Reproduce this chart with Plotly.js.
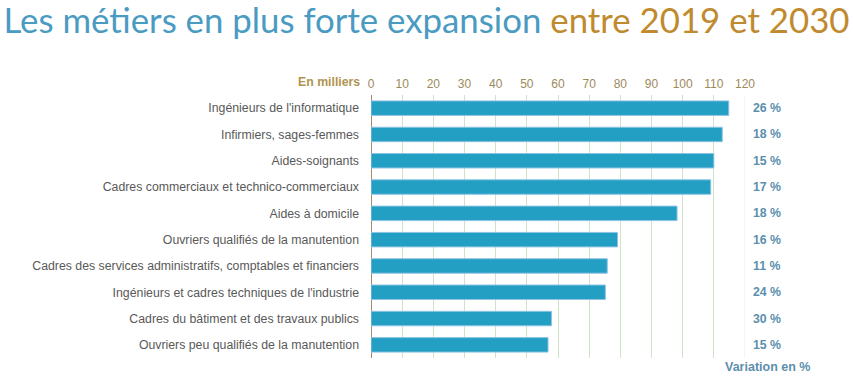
<!DOCTYPE html>
<html><head><meta charset="utf-8">
<script src="https://cdn.plot.ly/plotly-3.0.1.min.js"></script>
<style>body{margin:0;background:#fff}#c{width:853px;height:381px}</style>
</head><body><div id="c"></div>
<script>
const categories = [
  "Ingénieurs de l'informatique",
  "Infirmiers, sages-femmes",
  "Aides-soignants",
  "Cadres commerciaux et technico-commerciaux",
  "Aides à domicile",
  "Ouvriers qualifiés de la manutention",
  "Cadres des services administratifs, comptables et financiers",
  "Ingénieurs et cadres techniques de l'industrie",
  "Cadres du bâtiment et des travaux publics",
  "Ouvriers peu qualifiés de la manutention"
];
const valuesThousands = [114.8, 112.7, 110, 109, 98.2, 79.1, 75.8, 75.2, 57.9, 56.8];
const variationPct = ["26 %", "18 %", "15 %", "17 %", "18 %", "16 %", "11 %", "24 %", "30 %", "15 %"];
const tickValues = [0,10,20,30,40,50,60,70,80,90,100,110,120];

const trace = {
  type: 'bar', orientation: 'h',
  x: valuesThousands, y: categories,
  width: 0.55,
  marker: {color: '#229fc3', line: {color: '#8ec3e4', width: 1}},
  hoverinfo: 'skip'
};
const annotations = variationPct.map((t, i) => ({
  xref: 'paper', yref: 'y', x: 1.017, y: categories[i], xanchor: 'left',
  text: '<b>' + t + '</b>', showarrow: false,
  font: {family: 'Liberation Sans, Arial', size: 12.3, color: '#5b8fad'}
}));
annotations.push({
  xref: 'paper', yref: 'paper', x: -0.025, y: 1, yshift: 4, xanchor: 'right', yanchor: 'bottom',
  text: '<b>En milliers</b>', showarrow: false,
  font: {family: 'Liberation Sans, Arial', size: 12.3, color: '#b09450'}
});
annotations.push({
  xref: 'paper', yref: 'paper', x: 0.94, y: 0, xanchor: 'left', yanchor: 'top',
  text: '<b>Variation en %</b>', showarrow: false,
  font: {family: 'Liberation Sans, Arial', size: 12.5, color: '#5b8fad'}
});

const layout = {
  width: 853, height: 381,
  margin: {l: 371, r: 108, t: 95, b: 23},
  paper_bgcolor: '#fff', plot_bgcolor: '#fff',
  showlegend: false,
  title: {
    text: '<span style="color:#4a9bc2">Les métiers en plus forte expansion</span> <span style="color:#c08a2e">entre 2019 et 2030</span>',
    x: 0.5, xanchor: 'center', y: 0.945, yanchor: 'middle',
    font: {family: 'Lato', size: 34.8}
  },
  xaxis: {
    side: 'top', range: [0, 120], tickvals: tickValues, ticktext: tickValues.map(String),
    showgrid: true, gridcolor: '#cfe3c8', gridwidth: 1,
    zeroline: true, zerolinecolor: '#a88a66', zerolinewidth: 1,
    ticks: '', ticklabelstandoff: 4,
    tickfont: {family: 'Liberation Sans, Arial', size: 12, color: '#9c8a5c'},
    fixedrange: true
  },
  yaxis: {
    autorange: 'reversed', type: 'category',
    ticks: '', ticklabelstandoff: 11,
    tickfont: {family: 'Liberation Sans, Arial', size: 12.3, color: '#595959'},
    showgrid: false, fixedrange: true
  },
  shapes: [{
    type: 'line', xref: 'x', yref: 'paper', x0: 120, x1: 120, y0: 0, y1: 1,
    line: {color: '#f3ead8', width: 1}
  }],
  annotations: annotations
};
Plotly.newPlot('c', [trace], layout, {displayModeBar: false, staticPlot: true});
</script></body></html>
